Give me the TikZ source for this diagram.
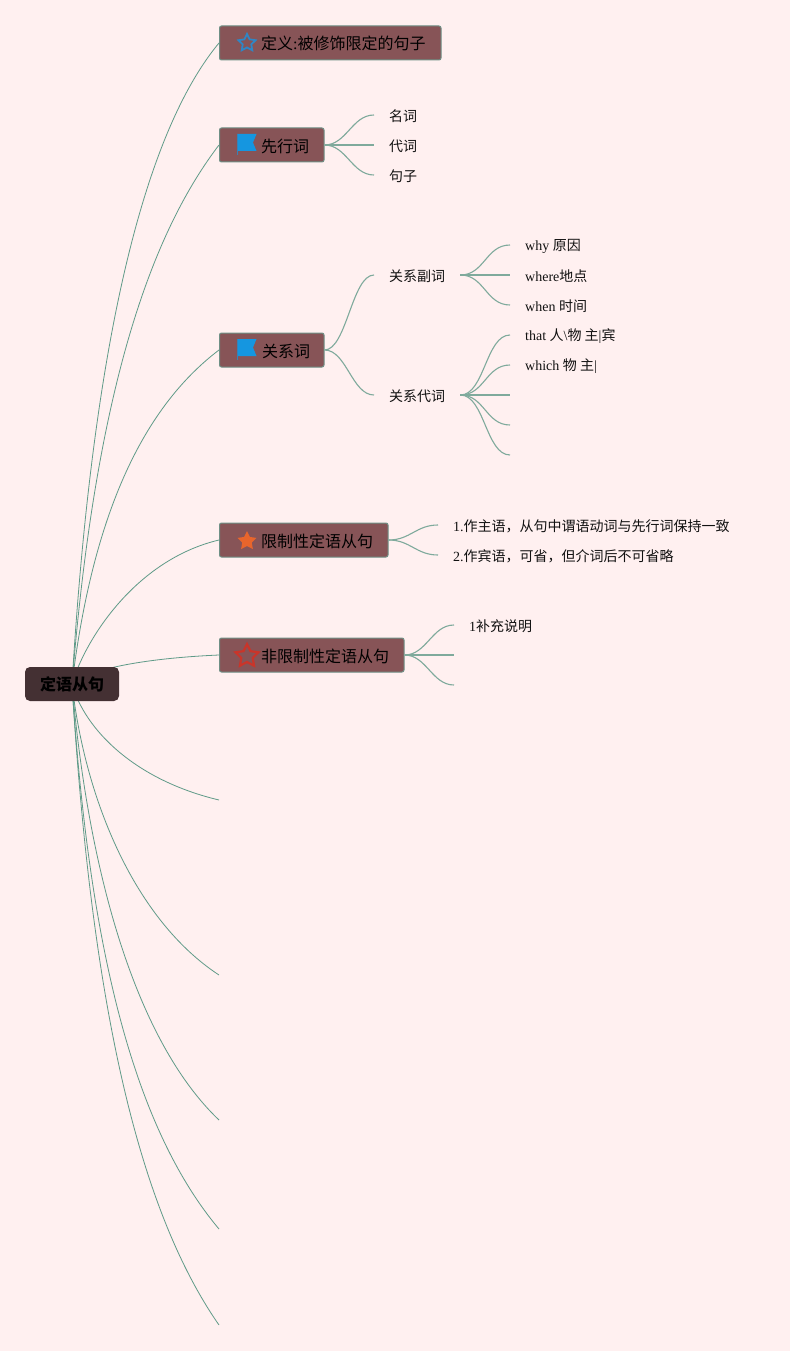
\documentclass[tikz,border=0pt]{standalone}
\usepackage{fontspec}
\setmainfont{Liberation Serif}
\newfontfamily\cjk{Noto Sans CJK SC}
\usetikzlibrary{shapes.geometric}
\definecolor{bgc}{HTML}{FFF0F0}
\definecolor{boxc}{HTML}{875457}
\definecolor{boxl}{HTML}{6F9086}
\definecolor{rootc}{HTML}{443033}
\definecolor{linec}{HTML}{5F9A88}
\definecolor{twigc}{HTML}{7FAA9C}
\definecolor{txtc}{HTML}{111111}
\definecolor{staro}{HTML}{2F86C5}
\definecolor{flagc}{HTML}{1596E0}
\definecolor{oran}{HTML}{E8652C}
\definecolor{redc}{HTML}{C9352A}
\tikzset{
  trunk/.style={draw=linec,line width=0.8pt},
  twig/.style={draw=twigc,line width=1.1pt},
  topic/.style={draw=boxl,fill=boxc,line width=1pt,rounded corners=2pt,anchor=west,inner xsep=0pt,inner ysep=0pt,minimum height=34pt,text=black,font=\fontsize{16}{18}\selectfont},
  leaf/.style={anchor=west,inner xsep=15pt,inner ysep=0pt,text=txtc,font=\fontsize{14}{16}\selectfont},
  rootbox/.style={fill=rootc,rounded corners=5pt,minimum width=94pt,minimum height=34pt,inner sep=0pt,text=black,font=\cjk\bfseries\fontsize{16}{18}\selectfont},
  starout/.style={star,star points=5,star point ratio=2.0,inner sep=0pt,fill=none},
  lab/.style={anchor=west,inner sep=0pt,text=black,font=\fontsize{16}{18}\selectfont},
}
\begin{document}
\begin{tikzpicture}[x=1pt,y=-1pt]
\useasboundingbox (0,0) rectangle (790,1351);
\fill[bgc] (0,0) rectangle (790,1351);
% nodes
\coordinate (hub) at (72,684);
\node[topic,minimum width=221.5pt] (b1) at (219,43) {};
\node[topic,minimum width=104.5pt] (b2) at (219,145) {};
\node[topic,minimum width=104.5pt] (b3) at (219,350) {};
\node[topic,minimum width=168.5pt] (b4) at (219,540) {};
\node[topic,minimum width=184.5pt] (b5) at (219,655) {};
\coordinate (e1) at (219,800);
\coordinate (e2) at (219,975);
\coordinate (e3) at (219,1120);
\coordinate (e4) at (219,1229);
\coordinate (e5) at (219,1325);
\node[leaf] (n1) at (374,116) {\cjk 名词};
\node[leaf] (n2) at (374,146) {\cjk 代词};
\node[leaf] (n3) at (374,176) {\cjk 句子};
\node[leaf] (adv) at (374,276) {\cjk 关系副词};
\node[leaf] (pro) at (374,396) {\cjk 关系代词};
\node[leaf] (a1) at (510,246) {why {\cjk 原因}};
\node[leaf] (a2) at (510,276) {where{\cjk 地点}};
\node[leaf] (a3) at (510,306) {when {\cjk 时间}};
\node[leaf] (p1) at (510,336) {that {\cjk 人}\textbackslash{\cjk 物 主}|{\cjk 宾}};
\node[leaf] (p2) at (510,366) {which {\cjk 物 主}|};
\coordinate (p3) at (510,395);
\coordinate (p4) at (510,425);
\coordinate (p5) at (510,455);
\node[leaf] (r1) at (438,526) {1.{\cjk 作主语，从句中谓语动词与先行词保持一致}};
\node[leaf] (r2) at (438,556) {2.{\cjk 作宾语，可省，但介词后不可省略}};
\node[leaf] (f1) at (454,626) {1{\cjk 补充说明}};
\coordinate (f2) at (454,655);
\coordinate (f3) at (454,685);
% trunk connectors
\draw[trunk] (hub) .. controls (95,300) and (155,120) .. (b1.west);
\draw[trunk] (hub) .. controls (97,370) and (158,225) .. (b2.west);
\draw[trunk] (hub) .. controls (92,520) and (140,410) .. (b3.west);
\draw[trunk] (hub) .. controls (85,640) and (135,560) .. (b4.west);
\draw[trunk] (hub) .. controls (90,668) and (150,658) .. (b5.west);
\draw[trunk] (hub) .. controls (85,730) and (135,780) .. (e1);
\draw[trunk] (hub) .. controls (85,800) and (135,920) .. (e2);
\draw[trunk] (hub) .. controls (88,870) and (135,1040) .. (e3);
\draw[trunk] (hub) .. controls (88,935) and (130,1123) .. (e4);
\draw[trunk] (hub) .. controls (90,980) and (132,1200) .. (e5);
% twigs
\foreach \a/\b in {b2/n1,b2/n2,b2/n3,b3/adv,b3/pro,b4/r1,b4/r2,b5/f1}
  \draw[twig] (\a.east) .. controls +(22,0) and +(-22,0) .. ([yshift=1pt]\b.west);
\foreach \t in {f2,f3}
  \draw[twig] (b5.east) .. controls +(22,0) and +(-22,0) .. (\t);
\foreach \b in {a1,a2,a3}
  \draw[twig] ([yshift=1pt]adv.east) .. controls +(24,0) and +(-24,0) .. ([yshift=1pt]\b.west);
\foreach \b in {p1,p2}
  \draw[twig] ([yshift=1pt]pro.east) .. controls +(24,0) and +(-24,0) .. ([yshift=1pt]\b.west);
\foreach \t in {p3,p4,p5}
  \draw[twig] ([yshift=1pt]pro.east) .. controls +(24,0) and +(-24,0) .. (\t);
% root
\node[rootbox] (root) at (72,684) {定语从句};
% topic labels
\node[lab] (t1) at (261,43.5) {{\cjk 定义}:{\cjk 被修饰限定的句子}};
\node[lab] (t2) at (261,146) {\cjk 先行词};
\node[lab] (t3) at (262,351) {\cjk 关系词};
\node[lab] (t4) at (261,541) {\cjk 限制性定语从句};
\node[lab] (t5) at (261,656) {\cjk 非限制性定语从句};
% icons
\node[starout,draw=staro,line width=1.8pt,minimum size=18pt] (s1) at (247,43) {};
\node[star,star points=5,star point ratio=2.0,inner sep=0pt,fill=oran,minimum size=20pt] (s4) at (247,541) {};
\node[starout,draw=redc,line width=2.2pt,minimum size=24pt] (s5) at (247,656) {};
\foreach \y in {134,339}{
  \fill[flagc] (237,\y) -- (256.5,\y) -- (253,\y+8.5) -- (256.5,\y+17) -- (237,\y+17) -- cycle;
  \draw[flagc!70!boxc,line width=0.8pt] (237.5,\y) -- (237.5,\y+21);
}
\end{tikzpicture}
\end{document}
